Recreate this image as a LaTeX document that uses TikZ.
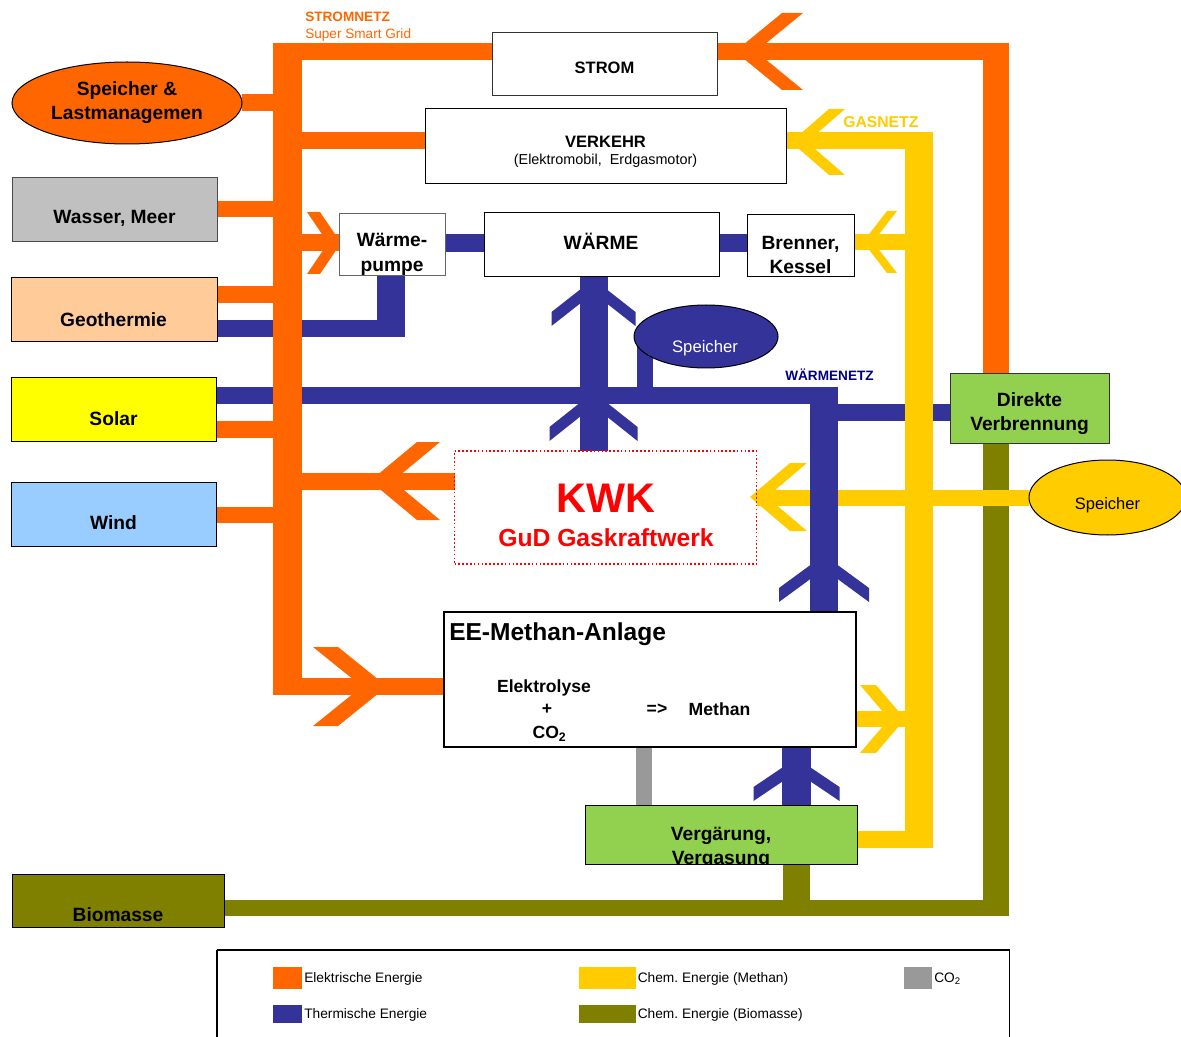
\documentclass[tikz,border=0pt]{standalone}
\usepackage{fontspec}
\setmainfont{Liberation Sans}
\usetikzlibrary{shapes.geometric,backgrounds}
\frenchspacing
\definecolor{elO}{HTML}{FF6600}
\definecolor{thB}{HTML}{333399}
\definecolor{gasY}{HTML}{FFCC00}
\definecolor{bioC}{HTML}{808000}
\definecolor{co2G}{HTML}{999999}
\definecolor{greenV}{HTML}{92D050}
\definecolor{wasserC}{HTML}{C0C0C0}
\definecolor{geoC}{HTML}{FFCC99}
\definecolor{solarC}{HTML}{FFFF00}
\definecolor{windC}{HTML}{99CCFF}
\definecolor{navyL}{HTML}{000080}
\tikzset{
  px/.style 2 args={minimum width=#1*0.75pt, minimum height=#2*0.75pt},
  box/.style={rectangle, draw=black, line width=0.75pt, fill=white, inner sep=0pt, outer sep=0pt},
  oval/.style={ellipse, draw=black, line width=0.75pt, inner sep=0pt, outer sep=0pt},
  txt/.style={inner sep=0pt, align=center, font=\bfseries\fontsize{14.4}{18}\selectfont},
  small/.style={inner sep=0pt, anchor=west, font=\fontsize{10.3}{12}\selectfont},
  sw/.style={rectangle, draw=none, inner sep=0pt},
  bw/.style={line width=#1*0.75pt, line cap=butt},
}
% horizontal chevron: colour, tip x, tip y, direction of arms (+1 right / -1 left), a, c, H
\newcommand\chevH[7]{\fill[#1] (#2,#3) -- ({#2+(#4)*(#5)},{#3-(#7)}) -- ({#2+(#4)*(#5+#6)},{#3-(#7)}) -- ({#2+(#4)*(#6)},#3) -- ({#2+(#4)*(#5+#6)},{#3+(#7)}) -- ({#2+(#4)*(#5)},{#3+(#7)}) -- cycle;}
% vertical chevron pointing up: colour, tip x, tip y, a, c, H
\newcommand\chevV[6]{\fill[#1] (#2,#3) -- ({#2-(#6)},{#3+(#4)}) -- ({#2-(#6)},{#3+(#4)+(#5)}) -- (#2,{#3+(#5)}) -- ({#2+(#6)},{#3+(#4)+(#5)}) -- ({#2+(#6)},{#3+(#4)}) -- cycle;}
\begin{document}
\begin{tikzpicture}[x=0.75pt, y=-0.75pt]
\useasboundingbox (0,0) rectangle (1181,1037);

% ---------- bar positions ----------
\coordinate (xBus) at (287.5,0);
\coordinate (xOR) at (996,0);
\coordinate (xGas) at (919,0);
\coordinate (xBR) at (824,0);
\coordinate (xBC) at (593.5,0);
\coordinate (xBV) at (796.5,0);
\coordinate (xCO) at (644,0);
\coordinate (xWP) at (391,0);

% ---------- nodes ----------
\node[oval, fill=elO, px={230}{82}] (spL) at (127,103) {};
\node[txt] (spLt) at (127,102.5) {Speicher \&\\Lastmanagemen};

\node[box, draw=black!70, fill=wasserC, px={205}{64}] (wasser) at (114.5,210) {};
\node[txt] (wassert) at (114.5,218.5) {Wasser, Meer};
\node[box, fill=geoC, px={206}{64}] (geo) at (114,310) {};
\node[txt] (geot) at (113.5,319.5) {Geothermie};
\node[box, fill=solarC, px={205}{63}] (solar) at (113.5,409.5) {};
\node[txt] (solart) at (113.5,418.5) {Solar};
\node[box, fill=windC, px={205}{64}] (wind) at (113.5,514) {};
\node[txt] (windt) at (113.5,522.5) {Wind};
\node[box, fill=bioC, px={212}{53}] (bio) at (118,900.5) {};
\node[txt] (biot) at (118,914.5) {Biomasse};

\node[box, draw=black!80, px={225}{63}] (strom) at (604.5,64.5) {};
\node[txt, font=\bfseries\fontsize{12.4}{15}\selectfont] (stromt) at (604.5,68) {STROM};
\node[box, px={361}{75}] (verkehr) at (605.5,146.5) {};
\node[txt, font=\bfseries\fontsize{12.4}{15}\selectfont] (verkehrt) at (605.5,141.5) {VERKEHR};
\node[txt, font=\fontsize{10.8}{13}\selectfont] (verkehrs) at (605.5,161) {(Elektromobil,\ \ Erdgasmotor)};

\node[box, draw=black!60, px={106}{62}] (wp) at (392,245) {};
\node[txt, font=\bfseries\fontsize{14.4}{18.75}\selectfont] (wpt) at (392,254) {Wärme-\\pumpe};
\node[box, px={235}{64}] (waerme) at (601.5,245) {};
\node[txt] (waermet) at (601,241.5) {WÄRME};
\node[box, px={107}{62}] (brenner) at (800.5,246) {};
\node[txt] (brennert) at (800.5,254.5) {Brenner,\\Kessel};

\node[oval, fill=thB, px={144}{63}] (spB) at (706,336.5) {};
\node[txt, font=\fontsize{12.5}{15}\selectfont, text=white] (spBt) at (705,348) {Speicher};
\node[txt, font=\bfseries\fontsize{10.2}{12}\selectfont, text=navyL] (wnetz) at (829.5,374.5) {WÄRMENETZ};

\node[rectangle, draw=red, line width=1.1pt, dash pattern=on 1.2pt off 1.7pt, inner sep=0pt, outer sep=0pt, px={302}{113}] (kwk) at (605.5,507.5) {};
\node[txt, font=\bfseries\fontsize{31}{36}\selectfont, text=red] (kwkt) at (606,498) {KWK};
\node[txt, font=\bfseries\fontsize{18.5}{22}\selectfont, text=red] (gudt) at (606,538) {GuD Gaskraftwerk};

\node[box, draw=black!80, fill=greenV, px={159}{69}] (dv) at (1029.5,408.5) {};
\node[txt, font=\bfseries\fontsize{14.4}{17.6}\selectfont] (dvt) at (1029.5,413.5) {Direkte\\Verbrennung};
\node[oval, fill=gasY, px={157}{75}] (spY) at (1107.5,497.5) {};
\node[txt, font=\fontsize{12.4}{15}\selectfont] (spYt) at (1107.5,505) {Speicher};

\node[box, line width=1.5pt, px={412}{135}] (ee) at (649.5,679.5) {};
\node[txt, anchor=west, font=\bfseries\fontsize{18.4}{22}\selectfont] (eet) at (449,634.5) {EE-Methan-Anlage};
\node[txt, font=\bfseries\fontsize{13.2}{16}\selectfont] (elt) at (544,687.5) {Elektrolyse};
\node[txt, font=\bfseries\fontsize{13.2}{16}\selectfont] (plt) at (547,709.5) {+};
\node[txt, font=\bfseries\fontsize{13.2}{16}\selectfont] (co2t) at (549.5,734) {CO\textsubscript{2}};
\node[txt, font=\bfseries\fontsize{13.2}{16}\selectfont] (art) at (657,709.5) {=>};
\node[txt, font=\bfseries\fontsize{13.2}{16}\selectfont] (met) at (719.5,709.5) {Methan};

\node[box, fill=greenV, px={272}{59}] (verg) at (721,835) {};
\begin{scope}
\clip (verg.north west) rectangle (verg.south east);
\node[txt, font=\bfseries\fontsize{14.4}{18}\selectfont] (vergt) at (721,848) {Vergärung,\\Vergasung};
\end{scope}

% labels of the grids
\node[small, font=\bfseries\fontsize{10.2}{12}\selectfont, text=elO] (snetz) at (305,16.5) {STROMNETZ};
\node[small, font=\fontsize{10.2}{12}\selectfont, text=elO] (ssg) at (305,34.5) {Super Smart Grid};
\node[small, font=\bfseries\fontsize{11.8}{14}\selectfont, text=gasY] (gnetz) at (843,122.5) {GASNETZ};

% ---------- legend ----------
\draw[line width=0.9pt] (217,1037) -- (217,950);
\draw[line width=1.5pt] (216.5,950) -- (1010,950);
\draw[line width=1.2pt] (1009.5,950) -- (1009.5,1037);
\node[sw, fill=elO, px={29}{22}] (lgE) at (287.5,978) {};
\node[small] (lgEt) at (304,979) {Elektrische Energie};
\node[sw, fill=thB, px={29}{18}] (lgT) at (287.5,1014) {};
\node[small] (lgTt) at (304,1015) {Thermische Energie};
\node[sw, fill=gasY, px={57}{22}] (lgG) at (607.5,978) {};
\node[small] (lgGt) at (637.5,979) {Chem. Energie (Methan)};
\node[sw, fill=bioC, px={57}{18}] (lgB) at (607.5,1014) {};
\node[small] (lgBt) at (637.5,1015) {Chem. Energie (Biomasse)};
\node[sw, fill=co2G, px={28}{22}] (lgC) at (918,978) {};
\node[small] (lgCt) at (934,979) {CO\textsubscript{2}};

% ---------- energy flows ----------
\begin{scope}[on background layer]
% biomass (olive)
\draw[bw=27, bioC] (verg.south -| xBV) -- (xBV |- 0,916);
\draw[bw=16, bioC] (bio.east |- 0,908) -- (xOR |- 0,908);
\draw[bw=26, bioC] (dv.south -| xOR) -- (xOR |- 0,916);
% gas storage to KWK (yellow, below the heat line)
\draw[bw=16, gasY] (spY.west) -- (spY.west -| kwk.east);
\chevH{gasY}{750}{497}{1}{40}{17}{34}
% heat (blue)
\draw[bw=17, thB] (geo.east |- 0,328.5) -- (405,328.5);
\draw[bw=28, thB] (wp.south -| xWP) -- (xWP |- 0,337);
\draw[bw=18, thB] (wp.east |- 0,243) -- (waerme.west |- 0,243);
\draw[bw=18, thB] (waerme.east |- 0,243) -- (brenner.west |- 0,243);
\draw[bw=17, thB] (solar.east |- 0,395.5) -- (838,395.5);
\draw[bw=28, thB] (xBR |- 0,387) -- (ee.north -| xBR);
\draw[bw=17, thB] (xBR |- 0,412.5) -- (dv.west |- 0,412.5);
\draw[bw=28, thB] (waerme.south -| xBC) -- (kwk.north -| xBC);
\draw[bw=16, thB] (spB.center -| 645,0) -- (645,395.5);
\draw[bw=29, thB] (ee.south -| xBV) -- (verg.north -| xBV);
\chevV{thB}{593.5}{279}{33}{14}{42}
\chevV{thB}{593.5}{392}{35}{14}{44}
\chevV{thB}{824}{555}{33}{14}{45}
\chevV{thB}{796.5}{758}{29}{14}{43}
% gas network (yellow)
\draw[bw=17, gasY] (verkehr.east |- 0,140.5) -- (933,140.5);
\draw[bw=28, gasY] (xGas |- 0,132) -- (xGas |- 0,848);
\draw[bw=16, gasY] (brenner.east |- 0,242) -- (xGas |- 0,242);
\draw[bw=16, gasY] (ee.east |- 0,719) -- (xGas |- 0,719);
\draw[bw=17, gasY] (verg.east |- 0,839.5) -- (933,839.5);
\chevH{gasY}{791}{142}{1}{38}{16}{33}
\chevH{gasY}{863}{242}{1}{24}{10}{31}
\chevH{gasY}{905}{719}{-1}{29}{16}{34}
% electricity (orange)
\draw[bw=29, elO] (xBus |- 0,43) -- (xBus |- 0,694.5);
\draw[bw=17, elO] (xBus |- 0,51.5) -- (xOR |- 0,51.5);
\draw[bw=26, elO] (xOR |- 0,43) -- (dv.north -| xOR);
\draw[bw=17, elO] (spL.east) -- (spL.east -| xBus);
\draw[bw=17, elO] (xBus |- 0,140.5) -- (verkehr.west |- 0,140.5);
\draw[bw=16, elO] (wasser.east |- 0,209) -- (xBus |- 0,209);
\draw[bw=17, elO] (xBus |- 0,243) -- (wp.west |- 0,243);
\draw[bw=17, elO] (geo.east |- 0,294.5) -- (xBus |- 0,294.5);
\draw[bw=17, elO] (solar.east |- 0,429.5) -- (xBus |- 0,429.5);
\draw[bw=17, elO] (xBus |- 0,481) -- (kwk.west |- 0,481);
\draw[bw=16, elO] (wind.east |- 0,515) -- (xBus |- 0,515);
\draw[bw=17, elO] (273,686.5) -- (ee.west |- 0,686.5);
\chevH{elO}{735}{51.5}{1}{47}{21}{38.5}
\chevH{elO}{341}{243}{-1}{21}{13}{31}
\chevH{elO}{370}{481}{1}{47}{23}{39}
\chevH{elO}{387}{686.5}{-1}{49}{25}{39.5}
% CO2 (grey)
\draw[bw=16, co2G] (ee.south -| xCO) -- (verg.north -| xCO);
\end{scope}
\end{tikzpicture}
\end{document}
